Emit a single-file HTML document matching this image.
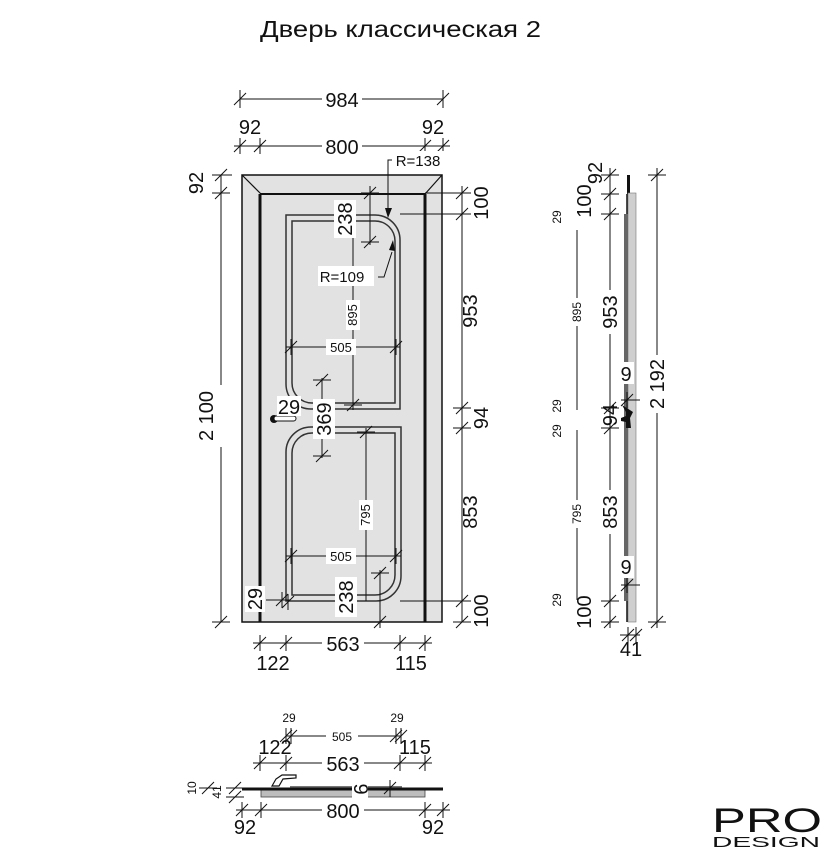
<!DOCTYPE html>
<html><head><meta charset="utf-8">
<style>
html,body{margin:0;padding:0;background:#fff;}
svg{display:block;}
text{font-family:"Liberation Sans Narrow","Liberation Sans",sans-serif;fill:#111;}
</style></head>
<body>
<svg width="831" height="857" viewBox="0 0 831 857" xmlns="http://www.w3.org/2000/svg">
<defs>
<g id="th" stroke="#111" stroke-width="1"><line x1="-6" y1="6" x2="6" y2="-6"/><line x1="0" y1="-8" x2="0" y2="8"/></g>
<g id="tv" stroke="#111" stroke-width="1"><line x1="-6" y1="6" x2="6" y2="-6"/><line x1="-9" y1="0" x2="9" y2="0"/></g>
</defs>

<text x="260" y="37" font-size="23" textLength="281" lengthAdjust="spacingAndGlyphs">Дверь классическая 2</text>

<!-- FRONT VIEW -->
<rect x="242" y="175" width="200" height="447" fill="#e2e2e2" stroke="#111" stroke-width="1.5"/>
<line x1="242" y1="175" x2="261" y2="194" stroke="#111" stroke-width="1.2"/>
<line x1="442" y1="175" x2="425" y2="194" stroke="#111" stroke-width="1.2"/>
<line x1="260" y1="194" x2="425" y2="194" stroke="#111" stroke-width="2"/>
<line x1="260" y1="194" x2="260" y2="622" stroke="#111" stroke-width="3"/>
<line x1="425" y1="194" x2="425" y2="622" stroke="#111" stroke-width="3"/>
<g fill="none" stroke="#333" stroke-width="1.5">
<path d="M286,215 H375 A25,25 0 0 1 400,240 V409 H311 A25,25 0 0 1 286,384 Z"/>
<path d="M292,221 H375 A20,20 0 0 1 395,241 V403 H312 A20,20 0 0 1 292,383 Z"/>
<path d="M286,452 A25,25 0 0 1 311,427 H401 V576 A25,25 0 0 1 376,601 H286 Z"/>
<path d="M292,453 A20,20 0 0 1 312,433 H395 V575 A20,20 0 0 1 375,595 H292 Z"/>
</g>
<circle cx="274" cy="419" r="4" fill="#111"/>
<rect x="274" y="416" width="22" height="5" rx="2.5" fill="#fff" stroke="#111" stroke-width="1"/>

<g stroke="#111" stroke-width="1" fill="none">
<line x1="240" y1="99" x2="443" y2="99"/>
<line x1="240" y1="90" x2="240" y2="108"/><line x1="443" y1="90" x2="443" y2="108"/>
<line x1="234" y1="146" x2="450" y2="146"/>
<line x1="221" y1="175" x2="221" y2="622"/>
<line x1="212" y1="175" x2="232" y2="175"/>
<line x1="462" y1="186" x2="462" y2="622"/>
<line x1="425" y1="193" x2="470" y2="193"/>
<line x1="400" y1="214" x2="470" y2="214"/>
<line x1="400" y1="601" x2="470" y2="601"/>
<line x1="253" y1="643" x2="432" y2="643"/>
<line x1="353" y1="220" x2="353" y2="410"/>
<line x1="370" y1="186" x2="370" y2="245"/>
<line x1="286" y1="347" x2="400" y2="347"/>
<line x1="322" y1="378" x2="322" y2="458"/>
<line x1="366" y1="428" x2="366" y2="601"/>
<line x1="286" y1="556" x2="401" y2="556"/>
<line x1="380" y1="570" x2="380" y2="628"/>
<line x1="266" y1="600" x2="290" y2="600"/>
<polyline points="392,160 388,160 388,208"/>
<polyline points="378,277 384,277 392,252"/>
</g>
<polygon points="385,208 392,208 388,218" fill="#111"/>
<polygon points="389,250 395,251 393,240" fill="#111"/>

<g>
<use href="#th" x="240" y="99"/><use href="#th" x="443" y="99"/>
<use href="#th" x="240" y="146"/><use href="#th" x="260" y="146"/><use href="#th" x="425" y="146"/><use href="#th" x="443" y="146"/>
<use href="#tv" x="221" y="175"/><use href="#tv" x="221" y="193"/><use href="#tv" x="221" y="622"/>
<use href="#tv" x="462" y="193"/><use href="#tv" x="462" y="214"/><use href="#tv" x="462" y="408"/><use href="#tv" x="462" y="428"/><use href="#tv" x="462" y="601"/><use href="#tv" x="462" y="622"/>
<use href="#th" x="260" y="643"/><use href="#th" x="286" y="643"/><use href="#th" x="400" y="643"/><use href="#th" x="425" y="643"/>
<use href="#tv" x="370" y="193"/><use href="#tv" x="370" y="242"/>
<use href="#th" x="291" y="347"/><use href="#th" x="396" y="347"/>
<use href="#tv" x="322" y="380"/><use href="#tv" x="322" y="456"/>
<use href="#tv" x="353" y="405"/><use href="#tv" x="366" y="432"/>
<use href="#th" x="291" y="556"/><use href="#th" x="396" y="556"/>
<use href="#tv" x="380" y="573"/><use href="#tv" x="380" y="622"/>
<use href="#th" x="282" y="600"/><use href="#th" x="288" y="602"/>
</g>

<g font-size="20" text-anchor="middle">
<rect x="322" y="88" width="40" height="22" fill="#fff"/>
<text x="342" y="107">984</text>
<text x="250" y="134">92</text><text x="433" y="134">92</text>
<rect x="322" y="135" width="40" height="22" fill="#fff"/>
<text x="342" y="154">800</text>
<text transform="translate(203,183) rotate(-90)">92</text>
<rect x="200" y="385" width="22" height="62" fill="#fff"/>
<text transform="translate(213,416) rotate(-90)">2 100</text>
<text transform="translate(488,203) rotate(-90)">100</text>
<rect x="470" y="290" width="22" height="44" fill="#fff"/>
<text transform="translate(470,311) rotate(-90)" dy="7">953</text>
<text transform="translate(488,418) rotate(-90)">94</text>
<text transform="translate(470,512) rotate(-90)" dy="7">853</text>
<text transform="translate(488,611) rotate(-90)">100</text>
<rect x="322" y="632" width="42" height="22" fill="#fff"/>
<text x="343" y="651">563</text>
<text x="273" y="670">122</text><text x="411" y="670">115</text>
<rect x="334" y="200" width="22" height="38" fill="#fff"/>
<text transform="translate(352,219) rotate(-90)">238</text>
<rect x="313" y="399" width="22" height="40" fill="#fff"/>
<text transform="translate(331,419) rotate(-90)">369</text>
<rect x="277" y="396" width="24" height="20" fill="#fff"/>
<text x="289" y="414">29</text>
<rect x="335" y="577" width="22" height="40" fill="#fff"/>
<text transform="translate(353,597) rotate(-90)">238</text>
<rect x="245" y="586" width="20" height="26" fill="#fff"/>
<text transform="translate(262,599) rotate(-90)">29</text>
</g>
<g font-size="15" text-anchor="middle">
<rect x="394" y="151" width="50" height="18" fill="#fff"/>
<text x="418" y="166">R=138</text>
<rect x="318" y="266" width="56" height="20" fill="#fff"/>
<text x="342" y="282">R=109</text>
</g>
<g font-size="13" text-anchor="middle">
<rect x="346" y="300" width="14" height="30" fill="#fff"/>
<text transform="translate(357,315) rotate(-90)">895</text>
<rect x="326" y="339" width="30" height="16" fill="#fff"/>
<text x="341" y="352">505</text>
<rect x="359" y="500" width="14" height="30" fill="#fff"/>
<text transform="translate(370,515) rotate(-90)">795</text>
<rect x="326" y="548" width="30" height="16" fill="#fff"/>
<text x="341" y="561">505</text>
</g>

<!-- SIDE VIEW -->
<rect x="627" y="175" width="3" height="19" fill="#111"/>
<rect x="628" y="193" width="8" height="429" fill="#cfcfcf" stroke="#777" stroke-width="0.6"/>
<rect x="624" y="214" width="4" height="387" fill="#666"/>
<line x1="627" y1="194" x2="627" y2="214" stroke="#111" stroke-width="1.5"/>
<line x1="627" y1="601" x2="627" y2="622" stroke="#111" stroke-width="1.5"/>
<path d="M622,405 L626,412 L626,416 L621,418 L621,421 L626,422 L626,428 L631,428 L630,418 L633,412 Z" fill="#111"/>
<g stroke="#111" stroke-width="1" fill="none">
<line x1="577" y1="230" x2="577" y2="410"/>
<line x1="577" y1="430" x2="577" y2="600"/>
<line x1="610" y1="168" x2="610" y2="628"/>
<line x1="657" y1="168" x2="657" y2="628"/>
<line x1="621" y1="400" x2="640" y2="400"/>
<line x1="621" y1="585" x2="640" y2="585"/>
<line x1="620" y1="635" x2="640" y2="635"/>
</g>
<g>
<use href="#tv" x="610" y="175"/><use href="#tv" x="610" y="194"/><use href="#tv" x="610" y="214"/>
<use href="#tv" x="610" y="408"/><use href="#tv" x="610" y="428"/><use href="#tv" x="610" y="601"/><use href="#tv" x="610" y="622"/>
<use href="#tv" x="657" y="175"/><use href="#tv" x="657" y="622"/>
<use href="#th" x="628" y="635"/><use href="#th" x="636" y="635"/>
<use href="#th" x="627" y="400"/><use href="#th" x="627" y="585"/>
</g>
<g font-size="20" text-anchor="middle">
<text transform="translate(602,173) rotate(-90)">92</text>
<text transform="translate(591,201) rotate(-90)">100</text>
<rect x="601" y="290" width="18" height="44" fill="#fff"/>
<text transform="translate(617,312) rotate(-90)">953</text>
<text transform="translate(617,415) rotate(-90)">94</text>
<rect x="601" y="490" width="18" height="44" fill="#fff"/>
<text transform="translate(617,512) rotate(-90)">853</text>
<text transform="translate(591,612) rotate(-90)">100</text>
<rect x="647" y="355" width="20" height="58" fill="#fff"/>
<text transform="translate(664,384) rotate(-90)">2 192</text>
<rect x="618" y="362" width="16" height="22" fill="#fff"/>
<text x="626" y="381">9</text>
<rect x="618" y="556" width="16" height="22" fill="#fff"/>
<text x="626" y="574">9</text>
<text x="631" y="656">41</text>
</g>
<g font-size="12" text-anchor="middle">
<rect x="570" y="298" width="14" height="28" fill="#fff"/>
<text transform="translate(581,312) rotate(-90)">895</text>
<rect x="570" y="500" width="14" height="28" fill="#fff"/>
<text transform="translate(581,514) rotate(-90)">795</text>
<text transform="translate(561,217) rotate(-90)">29</text>
<text transform="translate(561,406) rotate(-90)">29</text>
<text transform="translate(561,431) rotate(-90)">29</text>
<text transform="translate(561,600) rotate(-90)">29</text>
</g>

<!-- BOTTOM SECTION -->
<rect x="261" y="788" width="164" height="9" fill="#bdbdbd" stroke="#444" stroke-width="0.8"/>
<rect x="290" y="786" width="112" height="3" fill="#777"/>
<line x1="242" y1="789" x2="443" y2="789" stroke="#111" stroke-width="3"/>
<path d="M272,786 L276,779 L282,775 L296,775 L296,778 L283,779 L279,786 Z" fill="#fff" stroke="#111" stroke-width="1.2"/>
<g stroke="#111" stroke-width="1" fill="none">
<line x1="286" y1="736" x2="401" y2="736"/>
<line x1="253" y1="763" x2="432" y2="763"/>
<line x1="236" y1="810" x2="450" y2="810"/>
<line x1="200" y1="788" x2="212" y2="788"/>
<line x1="230" y1="797" x2="240" y2="797"/>
<line x1="390" y1="782" x2="390" y2="797"/>
</g>
<g>
<use href="#th" x="286" y="736"/><use href="#th" x="291" y="736"/><use href="#th" x="396" y="736"/><use href="#th" x="401" y="736"/>
<use href="#th" x="260" y="763"/><use href="#th" x="286" y="763"/><use href="#th" x="400" y="763"/><use href="#th" x="425" y="763"/>
<use href="#th" x="242" y="810"/><use href="#th" x="261" y="810"/><use href="#th" x="425" y="810"/><use href="#th" x="443" y="810"/>
<use href="#tv" x="235" y="788"/><use href="#tv" x="235" y="797"/><use href="#tv" x="208" y="788"/>
<use href="#th" x="390" y="788"/>
</g>
<g font-size="20" text-anchor="middle">
<rect x="322" y="752" width="42" height="22" fill="#fff"/>
<text x="343" y="771">563</text>
<text x="275" y="754">122</text><text x="415" y="754">115</text>
<rect x="322" y="799" width="42" height="22" fill="#fff"/>
<text x="343" y="818">800</text>
<text x="245" y="834">92</text><text x="433" y="834">92</text>
<rect x="352" y="780" width="16" height="20" fill="#fff"/>
<text transform="translate(360,789) rotate(90)" dy="6">9</text>
</g>
<g font-size="12" text-anchor="middle">
<rect x="326" y="728" width="32" height="15" fill="#fff"/>
<text x="342" y="741">505</text>
<text x="289" y="722">29</text><text x="397" y="722">29</text>
<text transform="translate(196,788) rotate(-90)">10</text>
<text transform="translate(221,792) rotate(-90)">41</text>
</g>

<!-- LOGO -->
<text x="712" y="832" font-size="34" font-family="Liberation Sans" textLength="110" lengthAdjust="spacingAndGlyphs" style="fill:#111">PRO</text>
<text x="712" y="847" font-size="15" font-family="Liberation Sans" textLength="108" lengthAdjust="spacingAndGlyphs" style="fill:#111">DESIGN</text>
</svg>
</body></html>
